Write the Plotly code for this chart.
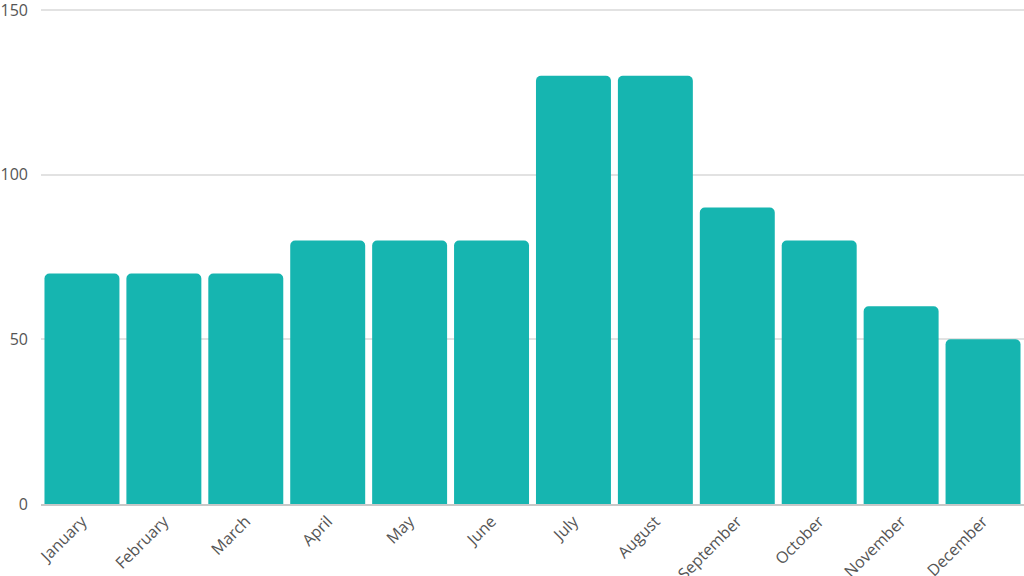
import plotly.graph_objects as go

# Monthly values
months = ["January", "February", "March", "April", "May", "June",
          "July", "August", "September", "October", "November", "December"]
values = [70, 70, 70, 80, 80, 80, 130, 130, 90, 80, 60, 50]

y_ticks = [0, 50, 100, 150]

fig = go.Figure(go.Bar(
    x=months,
    y=values,
    marker=dict(color="#16b5b0", cornerradius=5, line=dict(width=0)),
    hoverinfo="x+y",
))

fig.update_layout(
    width=1024,
    height=576,
    margin=dict(l=41, r=0, t=3, b=72),
    paper_bgcolor="white",
    plot_bgcolor="white",
    bargap=0.085,
    showlegend=False,
    font=dict(family="Open Sans, sans-serif", color="#555555"),
    xaxis=dict(
        tickangle=-45,
        tickfont=dict(size=16, color="#555555"),
        showgrid=False,
        showline=True,
        linecolor="#c8c8c8",
        linewidth=1.5,
        ticks="",
        automargin=False,
        ticklabeloverflow="allow",
    ),
    yaxis=dict(
        range=[0, 152.1],
        tickvals=y_ticks,
        tickfont=dict(size=16, color="#555555"),
        showgrid=True,
        gridcolor="#e2e2e2",
        gridwidth=1.5,
        zeroline=False,
        ticks="",
        ticklabelstandoff=12,
        ticklabeloverflow="allow",
        automargin=False,
    ),
)

# page body has a default 8px margin; drop it so the figure fills the window
fig.write_html("out.html", config={"displayModeBar": False},
               post_script="document.body.style.margin='0';")
